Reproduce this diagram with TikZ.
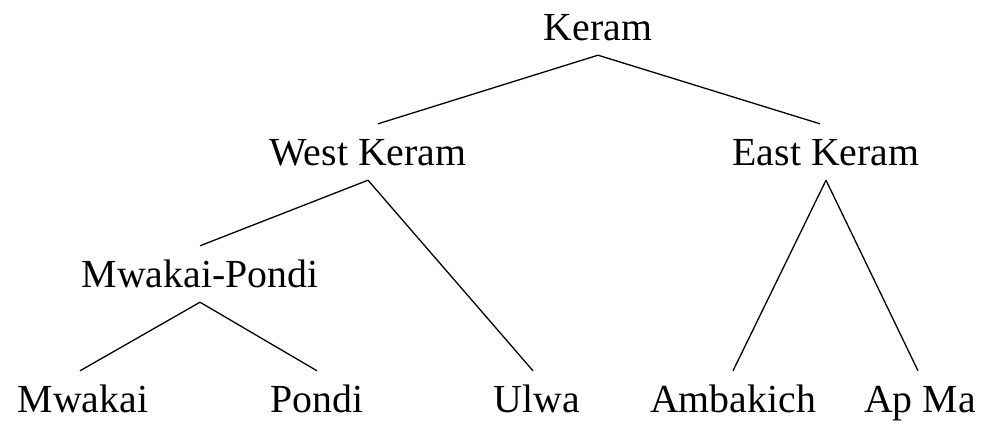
\documentclass[tikz,border=0pt]{standalone}
\usepackage{fontspec}
\setmainfont{Liberation Serif}
\begin{document}
\begin{tikzpicture}[x=1pt,y=-1pt,
  lbl/.style={anchor=base,inner xsep=0pt,inner ysep=15pt,text height=26pt,text depth=0pt,font=\fontsize{39.8}{41}\selectfont},
  edge/.style={line width=1.3pt}]
\useasboundingbox (0,0) rectangle (984,440);
\node[lbl] (keram) at (598,40) {Keram};
\node[lbl] (west) at (368,165) {West Keram};
\node[lbl] (east) at (826,165) {East Keram};
\node[lbl] (mp) at (200,287) {Mwakai-Pondi};
\node[lbl] (mwakai) at (83,412) {Mwakai};
\node[lbl] (pondi) at (317,412) {Pondi};
\node[lbl] (ulwa) at (537,412) {Ulwa};
\node[lbl] (amb) at (733,412) {Ambakich};
\node[lbl] (apma) at (920,412) {Ap Ma};
\draw[edge] (keram.south) -- ([xshift=10pt]west.north);
\draw[edge] (keram.south) -- ([xshift=-6pt]east.north);
\draw[edge] (west.south) -- (mp.north);
\draw[edge] (west.south) -- ([xshift=-4pt]ulwa.north);
\draw[edge] (mp.south) -- ([xshift=-3pt]mwakai.north);
\draw[edge] (mp.south) -- (pondi.north);
\draw[edge] (east.south) -- (amb.north);
\draw[edge] (east.south) -- ([xshift=-2pt]apma.north);
\end{tikzpicture}
\end{document}
